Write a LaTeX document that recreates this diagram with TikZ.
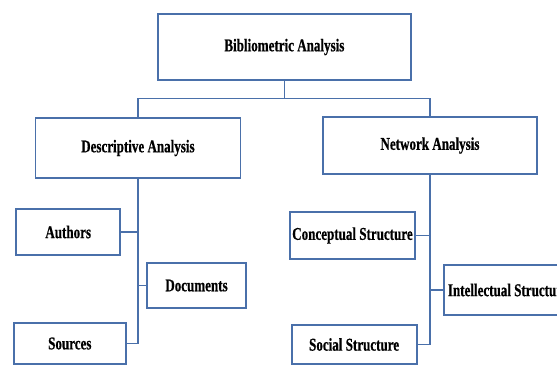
\documentclass[tikz,border=0pt]{standalone}
\usepackage{fontspec}
\newfontfamily\boxfont[FakeStretch=0.725,FakeBold=0.6]{Liberation Serif Bold}
\definecolor{boxblue}{RGB}{74,112,170}
\begin{document}
\begin{tikzpicture}[x=1pt,y=-1pt,
  box/.style={draw=boxblue, line width=1.8pt, rectangle, inner sep=0pt,
    font=\boxfont\fontsize{18}{20}\selectfont, text=black},
  conn/.style={color=boxblue, line width=1.8pt}]
\clip (0,0) rectangle (557,365);
\useasboundingbox (0,0) rectangle (557,365);
\node[box, minimum width=253pt, minimum height=66pt] (top) at (284.4,47) {Bibliometric Analysis};
\node[box, minimum width=205pt, minimum height=60pt] (desc) at (137.9,148) {Descriptive Analysis};
\node[box, minimum width=214pt, minimum height=57pt] (net) at (430,145.5) {Network Analysis};
\node[box, minimum width=104pt, minimum height=46pt] (auth) at (68.2,232) {Authors};
\node[box, minimum width=99pt, minimum height=45pt] (docs) at (196.5,285.5) {Documents};
\node[box, minimum width=112pt, minimum height=41pt] (src) at (69.8,343.5) {Sources};
\node[box, minimum width=125pt, minimum height=47pt] (conc) at (352.5,235.5) {Conceptual Structure};
\node[box, minimum width=125pt, minimum height=39pt] (soc) at (354.1,344.5) {Social Structure};
\node[box, minimum width=170pt, minimum height=50pt, anchor=west] (intel) at (443,290) {};
\node[box, draw=none, anchor=west] (intelt) at (447,290) {Intellectual Structure};
\coordinate (j) at (284.4,98.5);
\draw[conn] (top.south) -- (j);
\draw[conn] (desc.north) |- (j) -| (net.north);
\draw[conn] (desc.south) -- (desc.south |- src.east) -- (src.east);
\draw[conn] (auth.east) -- (desc.south |- auth.east);
\draw[conn] (docs.west) -- (desc.south |- docs.west);
\draw[conn] (net.south) -- (net.south |- soc.east) -- (soc.east);
\draw[conn] (conc.east) -- (net.south |- conc.east);
\draw[conn] (intel.west) -- (net.south |- intel.west);
\end{tikzpicture}
\end{document}
